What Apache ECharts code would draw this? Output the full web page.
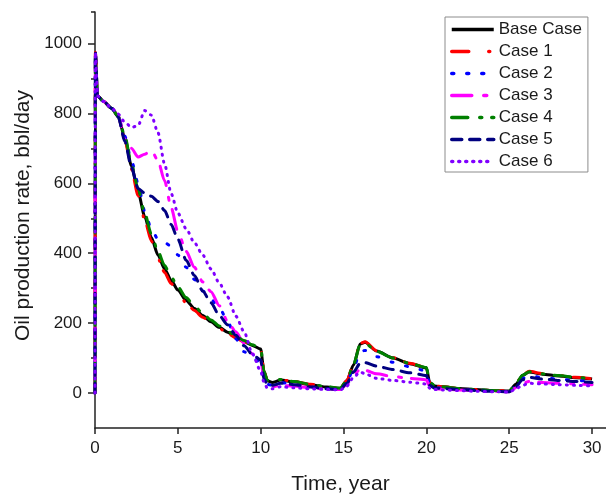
<!DOCTYPE html>
<html>
<head>
<meta charset="utf-8">
<script src="https://cdn.jsdelivr.net/npm/echarts@6/dist/echarts.min.js"></script>
<style>
html,body{margin:0;padding:0;background:#fff;}
#chart{width:606px;height:499px;}
</style>
</head>
<body>
<div id="chart"></div>
<script>
const years = [0, 0.02, 0.15, 0.5, 1.0, 1.4, 1.8, 2.2, 2.6, 3.0,
  3.4, 3.8, 4.2, 4.6, 5.0, 5.5, 6.0, 6.5, 7.0, 7.5,
  8.0, 8.5, 9.0, 9.5, 10.0, 10.2, 10.4, 10.7, 11.2, 12,
  13, 14, 14.8, 15.2, 15.6, 16.0, 16.3, 17, 18, 19,
  20.0, 20.2, 20.5, 21, 22, 23, 24, 25, 25.4, 25.8,
  26.2, 27, 28, 29, 30];

const baseCase = [0, 975, 850, 835, 815, 790, 730, 650, 575, 505,
  445, 395, 355, 322, 295, 265, 242, 222, 204, 188,
  174, 160, 147, 136, 126, 60, 35, 30, 37, 32,
  24, 17, 14, 35, 80, 140, 145, 120, 100, 84,
  72, 30, 20, 18, 13, 10, 7, 6, 25, 50,
  60, 54, 49, 44, 40];

const case1 = [0, 975, 850, 835, 815, 790, 725, 640, 565, 495,
  435, 385, 345, 313, 287, 258, 236, 217, 200, 185,
  171, 158, 146, 136, 127, 62, 36, 31, 38, 33,
  25, 18, 14, 36, 82, 142, 147, 121, 101, 85,
  73, 31, 21, 18, 13, 10, 7, 6, 26, 52,
  62, 56, 50, 45, 41];

const case2 = [0, 975, 850, 835, 815, 790, 735, 665, 600, 520,
  470, 440, 430, 420, 395, 360, 325, 292, 268, 245,
  205, 155, 118, 100, 88, 45, 25, 22, 30, 25,
  18, 12, 10, 30, 70, 118, 122, 104, 88, 75,
  63, 25, 15, 14, 10, 8, 5, 4, 20, 42,
  50, 44, 40, 36, 33];

const case3 = [0, 975, 850, 835, 815, 795, 725, 700, 675, 683,
  695, 665, 607, 530, 462, 405, 360, 318, 290, 250,
  205, 175, 142, 112, 92, 45, 22, 18, 22, 20,
  15, 11, 10, 25, 50, 68, 65, 55, 47, 42,
  38, 18, 12, 11, 9, 7, 5, 4, 15, 28,
  33, 30, 28, 26, 24];

const case4 = [0, 975, 850, 835, 815, 792, 735, 655, 585, 515,
  455, 405, 365, 332, 304, 273, 249, 228, 209, 192,
  177, 163, 150, 138, 128, 62, 37, 32, 39, 33,
  25, 18, 14, 36, 82, 138, 142, 119, 100, 85,
  73, 31, 21, 18, 13, 10, 7, 6, 26, 51,
  61, 55, 50, 45, 41];

const case5 = [0, 975, 850, 835, 815, 790, 720, 645, 585, 572,
  563, 548, 522, 482, 440, 380, 336, 292, 258, 222,
  195, 165, 135, 110, 95, 40, 25, 22, 28, 24,
  17, 12, 10, 28, 60, 85, 87, 77, 67, 58,
  50, 22, 14, 13, 10, 7, 5, 4, 18, 38,
  45, 40, 36, 33, 30];

const case6 = [0, 975, 850, 835, 815, 798, 775, 760, 765, 808,
  795, 745, 655, 570, 515, 470, 430, 395, 355, 315,
  275, 220, 175, 112, 62, 30, 14, 12, 18, 15,
  12, 10, 9, 20, 45, 60, 55, 42, 36, 31,
  26, 14, 10, 9, 7, 5, 4, 3, 12, 22,
  28, 26, 24, 22, 20];

const seriesNames = ['Base Case', 'Case 1', 'Case 2', 'Case 3', 'Case 4', 'Case 5', 'Case 6'];
const xTicks = [0, 5, 10, 15, 20, 25, 30];
const yTicks = [0, 200, 400, 600, 800, 1000];
const yMinorTicks = [100, 300, 500, 700, 900, 1090];

const FONT = "Arial, 'Liberation Sans', sans-serif";
const valuesList = [baseCase, case1, case2, case3, case4, case5, case6];
const styles = [
  {color: '#000000', type: 'solid', cap: 'butt'},
  {color: '#ff0000', type: [17, 20, 1, 10], cap: 'round'},
  {color: '#0000ff', type: [2, 13], cap: 'round'},
  {color: '#ff00ff', type: [20, 12, 3, 10], cap: 'round'},
  {color: '#008000', type: [16, 12, 2, 10], cap: 'round'},
  {color: '#000080', type: [10, 8], cap: 'round'},
  {color: '#8000ff', type: [1, 6], cap: 'round'}
];

const series = seriesNames.map((name, k) => ({
  name: name,
  type: 'line',
  xAxisIndex: 0,
  yAxisIndex: 0,
  symbol: 'none',
  showSymbol: false,
  smooth: 0.25,
  smoothMonotone: 'x',
  animation: false,
  data: years.map((t, i) => [t, valuesList[k][i]]),
  lineStyle: {color: styles[k].color, width: 3, type: styles[k].type, cap: styles[k].cap, join: 'round'},
  itemStyle: {color: styles[k].color},
  z: 2 + k
}));

const chart = echarts.init(document.getElementById('chart'), null, {renderer: 'canvas'});
chart.setOption({
  animation: false,
  backgroundColor: '#ffffff',
  grid: {left: 95, right: 0, top: 12, bottom: 71, containLabel: false, outerBoundsMode: 'none'},
  legend: {
    orient: 'vertical',
    left: 445,
    top: 17,
    data: seriesNames,
    itemWidth: 42,
    itemHeight: 14,
    itemGap: 5,
    padding: [4, 6, 2, 5],
    borderColor: '#8c8c8c',
    borderWidth: 1,
    backgroundColor: '#ffffff',
    itemStyle: {opacity: 0},
    lineStyle: {width: 3.5},
    textStyle: {fontFamily: FONT, fontSize: 17, color: '#1a1a1a', lineHeight: 17}
  },
  xAxis: {
    type: 'value',
    min: 0,
    max: 30.84,
    name: 'Time, year',
    nameLocation: 'middle',
    nameGap: 46,
    nameTextStyle: {fontFamily: FONT, fontSize: 21, color: '#1a1a1a', padding: [0, 20, 0, 0]},
    axisLine: {show: true, onZero: false, lineStyle: {color: '#222', width: 1.5}},
    axisTick: {show: true, inside: false, length: 6, customValues: xTicks, lineStyle: {color: '#222', width: 1.5}},
    axisLabel: {show: true, margin: 12, customValues: xTicks, fontFamily: FONT, fontSize: 17, color: '#1a1a1a',
      formatter: v => String(v)},
    splitLine: {show: false}
  },
  yAxis: [{
    type: 'value',
    min: -100,
    max: 1090,
    name: 'Oil production rate, bbl/day',
    nameLocation: 'middle',
    nameGap: 59,
    nameTextStyle: {fontFamily: FONT, fontSize: 21, color: '#1a1a1a', padding: [0, 0, 0, 9]},
    axisLine: {show: true, onZero: false, lineStyle: {color: '#222', width: 1.5}},
    axisTick: {show: true, inside: false, length: 7, customValues: yTicks, lineStyle: {color: '#222', width: 1.5}},
    axisLabel: {show: true, margin: 13, customValues: yTicks, fontFamily: FONT, fontSize: 17, color: '#1a1a1a',
      formatter: v => String(v)},
    splitLine: {show: false}
  }, {
    type: 'value',
    min: -100,
    max: 1090,
    position: 'left',
    offset: 0,
    axisLine: {show: false},
    axisTick: {show: true, inside: false, length: 4, customValues: yMinorTicks, lineStyle: {color: '#222', width: 1.5}},
    axisLabel: {show: false, customValues: yMinorTicks},
    splitLine: {show: false}
  }],
  series: series
});
</script>
</body>
</html>
